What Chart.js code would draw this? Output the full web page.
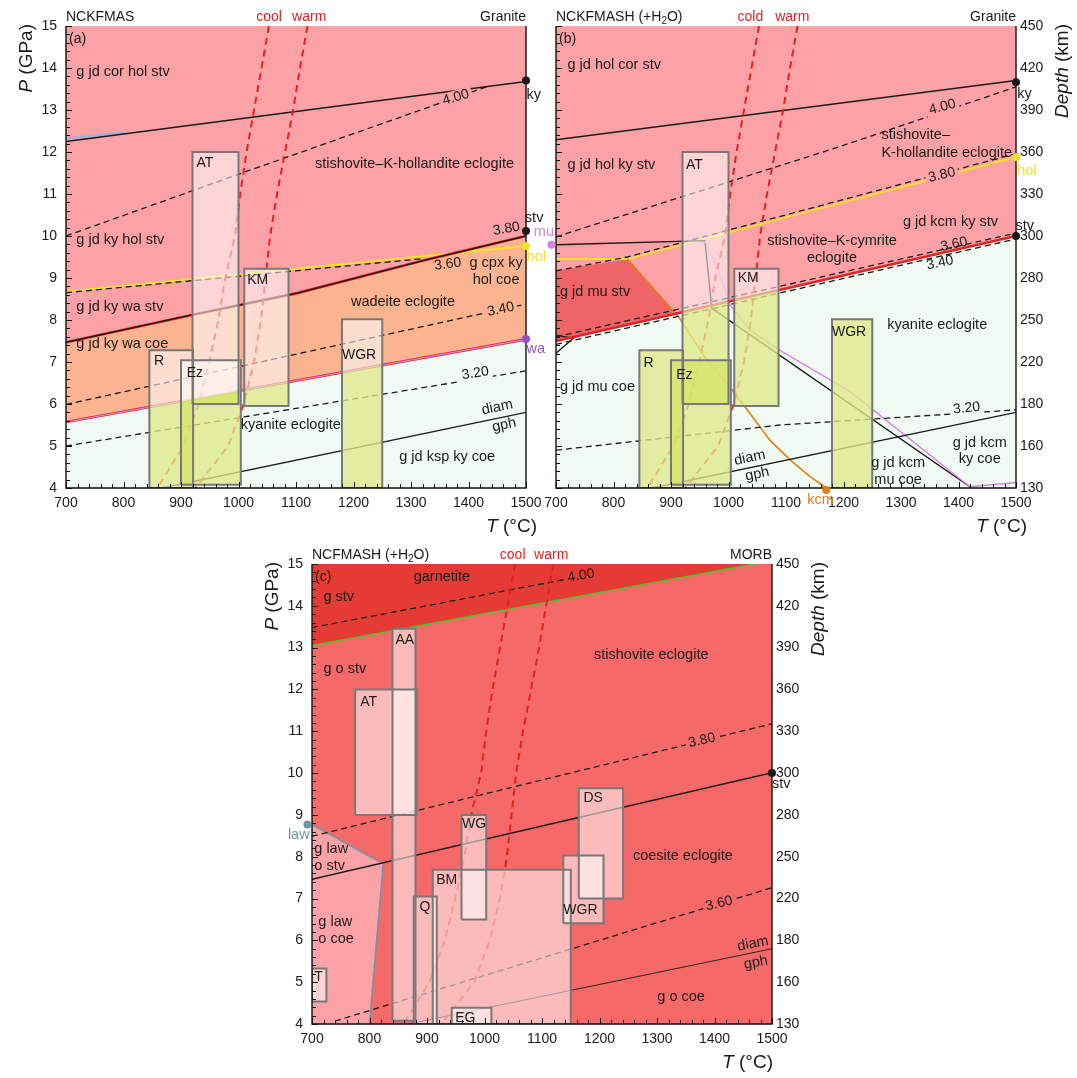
<!DOCTYPE html>
<html>
<head>
<meta charset="utf-8">
<title>Phase relations of subducted granite and MORB</title>
<script src="https://cdn.jsdelivr.net/npm/chart.js@4.4.1/dist/chart.umd.min.js"></script>
<style>
  html, body { margin: 0; padding: 0; background: #fff; }
  body { width: 1077px; height: 1078px; position: relative; overflow: hidden; }
  canvas { position: absolute; }
</style>
</head>
<body>
<canvas id="ca" width="560" height="545" style="left:0;top:0"></canvas>
<canvas id="cb" width="547" height="545" style="left:530px;top:0"></canvas>
<canvas id="cc" width="580" height="538" style="left:250px;top:540px"></canvas>
<script>
// Values: T in deg C, P in GPa

// geotherms (same in every panel)
const geoP = [15, 14, 13, 12, 11, 10, 9, 8, 7, 6, 5, 4];
const coolT = [1053, 1040, 1027, 1014, 1003, 994, 977, 965, 949, 931, 904, 859];
const warmT = [1120, 1107, 1095, 1081, 1067, 1055, 1047, 1039, 1027, 1009, 982, 925];

// diamond = graphite
const diamT = [868, 1500];
const diamP = [4.0, 5.8];

// depth axis labels (km) for 4 ... 15 GPa
const depthKm = [130, 160, 180, 220, 250, 280, 300, 330, 360, 390, 420, 450];

// rock P-T boxes in (a) and (b)
const boxNamesAB = ['AT', 'KM', 'R', 'Ez', 'WGR'];
const boxTminAB = [920, 1010, 845, 900, 1180];
const boxTmaxAB = [1000, 1087, 921, 1004, 1250];
const boxPminAB = [6.0, 5.95, 4.0, 4.08, 4.0];
const boxPmaxAB = [12.0, 9.22, 7.28, 7.04, 8.02];

// rock P-T boxes in (c)
const boxNamesC = ['AT', 'AA', 'WG', 'BM', 'Q', 'T', 'EG', 'DS', 'WGR'];
const boxTminC = [775, 840, 960, 910, 877, 700, 943, 1164, 1137];
const boxTmaxC = [882, 880, 1003, 1150, 917, 725, 1012, 1241, 1207];
const boxPminC = [9.0, 4.08, 6.5, 4.0, 4.0, 4.54, 4.0, 7.0, 6.41];
const boxPmaxC = [12.0, 13.45, 9.0, 7.69, 7.05, 5.33, 4.39, 9.64, 8.03];

// (a) NCKFMAS granite
const aKyT = [700, 1500], aKyP = [12.25, 13.68];
const aBlueT = [700, 800], aBlueP = [12.32, 12.47];
const aStvT = [700, 919, 1102, 1323, 1500], aStvP = [7.47, 8.12, 8.64, 9.42, 10.0];
const aHolT = [700, 1500], aHolP = [8.68, 9.76];
const aWaT = [700, 1500], aWaP = [5.57, 7.54];
const a400T = [700, 1006, 1437], a400P = [10.0, 11.5, 13.58];
const a360T = [700, 1320], a360P = [8.65, 9.46];
const a340T = [700, 1500], a340P = [5.99, 8.38];
const a320T = [700, 1500], a320P = [5.0, 6.79];
const aDotT = [1500, 1500, 1500, 1500], aDotP = [13.7, 10.12, 9.76, 7.55];

// (b) NCKFMASH granite
const bKyT = [700, 1500], bKyP = [12.29, 13.7];
const b400T = [700, 1194, 1500], b400P = [9.98, 12.13, 13.55];
const bHolT = [700, 824, 1500], bHolP = [9.45, 9.45, 11.88];
const b380T = [700, 824, 1500], b380P = [9.17, 9.5, 11.96];
const bStvT = [700, 1500], bStvP = [7.5, 10.0];
const b360T = [700, 1500], b360P = [7.6, 10.07];
const b340T = [700, 1500], b340P = [7.42, 9.93];
const b320T = [700, 1090, 1500], b320P = [4.9, 5.5, 5.86];
const bMuT = [700, 959, 971, 1423], bMuP = [9.79, 9.89, 8.28, 4.0];
const bMuViolT = [959, 980, 1003, 1037, 1093, 1211, 1420, 1500];
const bMuViolP = [9.89, 9.27, 8.36, 7.76, 7.25, 6.3, 4.03, 4.13];
const bKcmT = [824, 913, 962, 1002, 1037, 1072, 1107, 1142, 1170];
const bKcmP = [9.45, 8.08, 7.05, 6.41, 5.78, 5.14, 4.67, 4.27, 4.0];
const bMuStvT = [700, 824, 905, 700], bMuStvP = [9.17, 9.45, 8.18, 7.5];
const bLeftT = [700, 730, 700], bLeftP = [7.21, 7.56, 7.64];
const bDotT = [692, 1500, 1500, 1500, 1170], bDotP = [9.79, 13.66, 11.88, 10.0, 3.95];

// (c) NCFMASH MORB
const cGrtT = [700, 1470], cGrtP = [13.05, 15.0];
const c400T = [700, 1140], c400P = [13.48, 14.63];
const cLawT = [700, 824, 800], cLawP = [8.77, 7.83, 4.0];
const cStvT = [700, 1500], cStvP = [7.46, 10.01];
const c380T = [700, 1500], c380P = [8.49, 11.18];
const c360T = [740, 1500], c360P = [4.07, 7.26];
const cDotT = [1500, 692], cDotP = [10.0, 8.77];

const FONT = 'Helvetica, Arial, "Liberation Sans", sans-serif';
const INK = '#1a1a1a';
const PINK = 'rgb(252,161,165)';
const ORANGE = 'rgb(251,179,144)';
const GREEN = 'rgb(240,250,243)';
const DARKRED = 'rgb(239,101,103)';
const REDC = 'rgb(246,105,105)';
const GARNET = 'rgb(228,60,52)';
const BOX_WHITE = 'rgba(255,255,255,0.55)';
const BOX_YELLOW = 'rgba(204,221,71,0.5)';
const BOX_EDGE = 'rgb(120,120,120)';
const RED = 'rgb(226,34,34)';
const YELLOW = 'rgb(242,226,40)';
const VIOLET = 'rgb(214,130,222)';
const PURPLE = 'rgb(150,80,200)';
const KCM = 'rgb(222,128,20)';
const TEAL = 'rgb(112,150,165)';
const GRT_LINE = 'rgb(90,190,40)';
const DASH = [6, 4];
const GEO_DASH = [7, 5];

// text placed in data coordinates
const aLabels = [
  { t: 'g jd cor hol stv', x: 718, y: 13.91 },
  { t: 'stishovite–K-hollandite eclogite', x: 1306, y: 11.71, al: 'center' },
  { t: 'g jd ky hol stv', x: 718, y: 9.9 },
  { t: '4.00', x: 1378, y: 13.3, rot: 17, bg: PINK, s: 14, al: 'center' },
  { t: '3.80', x: 1466, y: 10.17, rot: 10, s: 14, al: 'center' },
  { t: '3.60', x: 1364, y: 9.33, rot: 7, s: 14, al: 'center' },
  { t: 'g cpx ky', x: 1448, y: 9.36, al: 'center' },
  { t: 'hol coe', x: 1448, y: 8.95, al: 'center' },
  { t: 'wadeite eclogite', x: 1286, y: 8.42, al: 'center' },
  { t: 'g jd ky wa stv', x: 718, y: 8.3 },
  { t: 'g jd ky wa coe', x: 718, y: 7.42 },
  { t: '3.40', x: 1456, y: 8.25, rot: 12, bg: ORANGE, s: 14, al: 'center' },
  { t: '3.20', x: 1412, y: 6.73, rot: 9, bg: GREEN, s: 14, al: 'center' },
  { t: 'kyanite eclogite', x: 1091, y: 5.5, al: 'center' },
  { t: 'diam', x: 1450, y: 5.92, rot: 12, al: 'center' },
  { t: 'gph', x: 1462, y: 5.5, rot: 12, al: 'center' },
  { t: 'g jd ksp ky coe', x: 1363, y: 4.73, al: 'center' },
  { t: 'AT', x: 927, y: 11.74, s: 14 },
  { t: 'KM', x: 1015, y: 8.96, s: 14 },
  { t: 'R', x: 853, y: 7.02, s: 14 },
  { t: 'Ez', x: 910, y: 6.74, s: 14 },
  { t: 'WGR', x: 1180, y: 7.17, s: 14 },
  { t: 'ky', x: 1501, y: 13.36 },
  { t: 'stv', x: 1498, y: 10.44 },
  { t: 'hol', x: 1501, y: 9.5, c: YELLOW },
  { t: 'wa', x: 1501, y: 7.32, c: PURPLE }
];
const bLabels = [
  { t: 'g jd hol cor stv', x: 720, y: 14.07 },
  { t: 'g jd hol ky stv', x: 720, y: 11.69 },
  { t: 'stishovite–', x: 1266, y: 12.4 },
  { t: 'K-hollandite eclogite', x: 1266, y: 11.97 },
  { t: '4.00', x: 1372, y: 13.07, rot: 15, bg: PINK, s: 14, al: 'center' },
  { t: '3.80', x: 1371, y: 11.45, rot: 13, bg: PINK, s: 14, al: 'center' },
  { t: 'g jd kcm ky stv', x: 1386, y: 10.34, al: 'center' },
  { t: 'stishovite–K-cymrite', x: 1180, y: 9.89, al: 'center' },
  { t: 'eclogite', x: 1180, y: 9.47, al: 'center' },
  { t: '3.60', x: 1392, y: 9.8, rot: 12, s: 14, al: 'center' },
  { t: '3.40', x: 1368, y: 9.36, rot: 12, s: 14, al: 'center' },
  { t: 'g jd mu stv', x: 707, y: 8.67 },
  { t: 'g jd mu coe', x: 707, y: 6.41 },
  { t: 'kyanite eclogite', x: 1363, y: 7.88, al: 'center' },
  { t: '3.20', x: 1414, y: 5.9, rot: 6, bg: GREEN, s: 14, al: 'center' },
  { t: 'g jd kcm', x: 1437, y: 5.08, al: 'center' },
  { t: 'ky coe', x: 1437, y: 4.68, al: 'center' },
  { t: 'g jd kcm', x: 1295, y: 4.6, al: 'center' },
  { t: 'mu coe', x: 1295, y: 4.19, al: 'center' },
  { t: 'diam', x: 1037, y: 4.72, rot: 12, al: 'center' },
  { t: 'gph', x: 1050, y: 4.33, rot: 12, al: 'center' },
  { t: 'AT', x: 926, y: 11.69, s: 14 },
  { t: 'KM', x: 1016, y: 8.99, s: 14 },
  { t: 'R', x: 852, y: 6.98, s: 14 },
  { t: 'Ez', x: 909, y: 6.69, s: 14 },
  { t: 'WGR', x: 1180, y: 7.7, s: 14 },
  { t: 'mu', x: 679, y: 10.1, al: 'center', c: VIOLET },
  { t: 'ky', x: 1502, y: 13.38 },
  { t: 'hol', x: 1502, y: 11.55, c: YELLOW },
  { t: 'stv', x: 1499, y: 10.25 },
  { t: 'kcm', x: 1160, y: 3.71, al: 'center', c: KCM }
];
const cLabels = [
  { t: 'garnetite', x: 926, y: 14.69, al: 'center' },
  { t: 'g stv', x: 720, y: 14.2 },
  { t: 'g o stv', x: 720, y: 12.5 },
  { t: 'stishovite eclogite', x: 1290, y: 12.82, al: 'center' },
  { t: '4.00', x: 1168, y: 14.72, rot: 10, s: 14, al: 'center' },
  { t: '3.80', x: 1378, y: 10.78, rot: 13, bg: REDC, s: 14, al: 'center' },
  { t: '3.60', x: 1408, y: 6.88, rot: 14, bg: REDC, s: 14, al: 'center' },
  { t: 'coesite eclogite', x: 1345, y: 8.01, al: 'center' },
  { t: 'g law', x: 704, y: 8.19 },
  { t: 'o stv', x: 704, y: 7.79 },
  { t: 'g law', x: 711, y: 6.44 },
  { t: 'o coe', x: 711, y: 6.04 },
  { t: 'diam', x: 1467, y: 5.92, rot: 11, al: 'center' },
  { t: 'gph', x: 1472, y: 5.47, rot: 11, al: 'center' },
  { t: 'g o coe', x: 1342, y: 4.64, al: 'center' },
  { t: 'AT', x: 784, y: 11.7, s: 14 },
  { t: 'AA', x: 845, y: 13.17, s: 14 },
  { t: 'WG', x: 961, y: 8.77, s: 14 },
  { t: 'BM', x: 916, y: 7.43, s: 14 },
  { t: 'Q', x: 887, y: 6.79, s: 14 },
  { t: 'T', x: 704, y: 5.12, s: 14 },
  { t: 'EG', x: 949, y: 4.15, s: 14 },
  { t: 'DS', x: 1172, y: 9.39, s: 14 },
  { t: 'WGR', x: 1137, y: 6.72, s: 14 },
  { t: 'stv', x: 1500, y: 9.74 },
  { t: 'law', x: 677, y: 8.53, al: 'center', c: TEAL }
];

const PANELS = {
  ca: { tag: 'NCKFMAS', rock: 'Granite', geo: ['cool', 'warm'], geoX: [1053, 1123], letter: '(a)', depth: false, tEnd: 11, labels: aLabels },
  cb: { tag: 'NCKFMASH (+H_2O)', rock: 'Granite', geo: ['cold', 'warm'], geoX: [1038, 1111], letter: '(b)', depth: true, tEnd: 11, labels: bLabels },
  cc: { tag: 'NCFMASH (+H_2O)', rock: 'MORB', geo: ['cool', 'warm'], geoX: [1049, 1116], letter: '(c)', depth: true, tEnd: 1, labels: cLabels }
};

function pts(T, P) {
  return T.map((t, i) => ({ x: t, y: P[i] }));
}

function area(T, P, color) {
  return { data: pts(T, P), showLine: true, fill: 'shape', backgroundColor: color,
    borderColor: 'rgba(0,0,0,0)', borderWidth: 0, pointRadius: 0 };
}

function curve(T, P, color, width, dash) {
  return { data: pts(T, P), showLine: true, fill: false, borderColor: color,
    borderWidth: width, borderDash: dash || [], pointRadius: 0, borderJoinStyle: 'miter' };
}

// end-point dots sit on or just outside the frame, so give them a wide margin
function dots(T, P, colors) {
  return { data: pts(T, P), showLine: false, pointRadius: 4, pointHoverRadius: 12,
    pointBackgroundColor: colors, pointBorderWidth: 0, clip: false };
}

function interp(T, P, t) {
  if (t <= T[0]) return P[0];
  for (let i = 1; i < T.length; i++) {
    if (t <= T[i]) return P[i - 1] + (P[i] - P[i - 1]) * (t - T[i - 1]) / (T[i] - T[i - 1]);
  }
  return P[P.length - 1];
}

// translucent rock boxes; the part lying in the kyanite eclogite field is tinted
function boxSets(tmin, tmax, pmin, pmax, cutT, cutP) {
  const fills = [], tint = [], edges = [];
  for (let i = 0; i < tmin.length; i++) {
    const rT = [tmin[i], tmax[i], tmax[i], tmin[i], tmin[i]];
    const rP = [pmin[i], pmin[i], pmax[i], pmax[i], pmin[i]];
    fills.push(area(rT, rP, BOX_WHITE));
    edges.push(curve(rT, rP, BOX_EDGE, 2));
    if (cutT) {
      const c1 = Math.min(pmax[i], interp(cutT, cutP, tmin[i]));
      const c2 = Math.min(pmax[i], interp(cutT, cutP, tmax[i]));
      if (c1 > pmin[i] || c2 > pmin[i]) {
        tint.push(area([tmin[i], tmax[i], tmax[i], tmin[i]],
          [pmin[i], pmin[i], Math.max(c2, pmin[i]), Math.max(c1, pmin[i])], BOX_YELLOW));
      }
    }
  }
  edges[edges.length - 1].label = 'frame';
  return [...fills, ...tint, ...edges];
}

function geotherms() {
  return [curve(coolT, geoP, RED, 2, GEO_DASH), curve(warmT, geoP, RED, 2, GEO_DASH)];
}

function drawTag(ctx, text, x, y) {
  const parts = text.split('_2');
  ctx.textAlign = 'left';
  ctx.font = `14px ${FONT}`;
  ctx.fillText(parts[0], x, y);
  if (parts.length > 1) {
    let px = x + ctx.measureText(parts[0]).width;
    ctx.font = `10px ${FONT}`;
    ctx.fillText('2', px, y + 4);
    px += ctx.measureText('2').width;
    ctx.font = `14px ${FONT}`;
    ctx.fillText(parts[1], px, y);
  }
}

function vTitle(ctx, it, rest, cx, topY) {
  ctx.save();
  ctx.translate(cx, topY);
  ctx.rotate(-Math.PI / 2);
  ctx.textAlign = 'left';
  ctx.textBaseline = 'middle';
  ctx.font = `italic 19px ${FONT}`;
  const w1 = ctx.measureText(it).width;
  ctx.font = `19px ${FONT}`;
  const w2 = ctx.measureText(rest).width;
  ctx.font = `italic 19px ${FONT}`;
  ctx.fillText(it, -(w1 + w2), 0);
  ctx.font = `19px ${FONT}`;
  ctx.fillText(rest, -w2, 0);
  ctx.restore();
}

const framePlugin = {
  id: 'frame',
  // inward ticks and frame, drawn over the fields but under the end-point dots
  afterDatasetDraw(chart, args) {
    if (chart.data.datasets[args.index].label !== 'frame') return;
    const { ctx, chartArea: a } = chart;
    const x = chart.scales.x, y = chart.scales.y;
    ctx.save();
    ctx.strokeStyle = '#111';
    ctx.lineWidth = 1;
    ctx.beginPath();
    for (let i = 0; i <= 40; i++) {
      const px = Math.round(x.getPixelForValue(700 + i * 20)) + 0.5;
      const len = i % 5 === 0 ? 6 : 4;
      ctx.moveTo(px, a.bottom);
      ctx.lineTo(px, a.bottom - len);
    }
    for (let i = 0; i <= 55; i++) {
      const py = Math.round(y.getPixelForValue(4 + i * 0.2)) + 0.5;
      const len = i % 5 === 0 ? 6 : 4;
      ctx.moveTo(a.left, py);
      ctx.lineTo(a.left + len, py);
    }
    ctx.stroke();
    ctx.lineWidth = 1.4;
    ctx.beginPath();
    ctx.moveTo(a.left, a.top);
    ctx.lineTo(a.left, a.bottom);
    ctx.lineTo(a.right, a.bottom);
    ctx.lineTo(a.right, a.top);
    ctx.stroke();
    ctx.restore();
  },
  afterDraw(chart) {
    const cfg = PANELS[chart.canvas.id];
    const { ctx, chartArea: a } = chart;
    const x = chart.scales.x, y = chart.scales.y;
    ctx.save();
    ctx.textBaseline = 'middle';
    ctx.fillStyle = INK;
    drawTag(ctx, cfg.tag, a.left, a.top - 9);
    ctx.font = `14px ${FONT}`;
    ctx.textAlign = 'right';
    ctx.fillText(cfg.rock, a.right, a.top - 9);
    ctx.fillStyle = RED;
    ctx.textAlign = 'center';
    cfg.geo.forEach((g, i) => ctx.fillText(g, x.getPixelForValue(cfg.geoX[i]), a.top - 9));
    ctx.fillStyle = INK;
    ctx.textAlign = 'left';
    ctx.fillText(cfg.letter, a.left + 3, a.top + 13);

    vTitle(ctx, 'P', ' (GPa)', a.left - 39, a.top - 2);
    if (cfg.depth) vTitle(ctx, 'Depth', ' (km)', a.right + 47, a.top - 2);
    ctx.font = `19px ${FONT}`;
    const wRest = ctx.measureText(' (°C)').width;
    ctx.textAlign = 'right';
    ctx.fillText(' (°C)', a.right + cfg.tEnd, a.bottom + 39);
    ctx.font = `italic 19px ${FONT}`;
    ctx.fillText('T', a.right + cfg.tEnd - wRest, a.bottom + 39);

    for (const l of cfg.labels) {
      ctx.save();
      ctx.translate(x.getPixelForValue(l.x), y.getPixelForValue(l.y));
      if (l.rot) ctx.rotate(-l.rot * Math.PI / 180);
      ctx.font = `${l.s || 14.5}px ${FONT}`;
      ctx.textAlign = l.al || 'left';
      const w = ctx.measureText(l.t).width;
      if (l.bg) {
        const x0 = l.al === 'center' ? -w / 2 : 0;
        ctx.fillStyle = l.bg;
        ctx.fillRect(x0 - 3, -7, w + 6, 14);
      }
      ctx.fillStyle = l.c || INK;
      ctx.fillText(l.t, 0, 0);
      ctx.restore();
    }
    ctx.restore();
  }
};

function makeChart(id, datasets, layout) {
  const n = datasets.length;
  datasets.forEach((d, i) => { d.order = n - i; });
  const tickFont = { family: FONT, size: 14 };
  const scales = {
    x: {
      type: 'linear', min: 700, max: 1500,
      grid: { display: false, drawTicks: false }, border: { display: false },
      ticks: { stepSize: 100, autoSkip: false, maxRotation: 0, padding: 7, color: INK, font: tickFont,
        callback: v => String(v) },
      afterFit: s => { s.height = 40; }
    },
    y: {
      type: 'linear', min: 4, max: 15,
      grid: { display: false, drawTicks: false }, border: { display: false },
      ticks: { stepSize: 1, display: layout.leftLabels, padding: 9, color: INK, font: tickFont,
        callback: v => String(v) },
      afterFit: s => { s.width = layout.leftW; }
    }
  };
  if (layout.rightW) {
    scales.y2 = {
      type: 'linear', position: 'right', min: 4, max: 15,
      grid: { display: false, drawTicks: false }, border: { display: false },
      ticks: { stepSize: 1, padding: 4, color: INK, font: tickFont,
        callback: v => String(depthKm[Math.round(v - 4)]) },
      afterFit: s => { s.width = layout.rightW; }
    };
  }
  return new Chart(document.getElementById(id), {
    type: 'scatter',
    data: { datasets },
    options: {
      responsive: false,
      animation: false,
      devicePixelRatio: 1,
      events: [],
      layout: { padding: layout.pad },
      plugins: { legend: { display: false }, tooltip: { enabled: false } },
      scales
    },
    plugins: [framePlugin]
  });
}

const fullT = [700, 1500, 1500, 700], fullP = [4, 4, 15, 15];

const setsA = [
  area(fullT, fullP, PINK),
  area([...aStvT, ...aWaT.slice().reverse()], [...aStvP, ...aWaP.slice().reverse()], ORANGE),
  area([...aWaT, 1500, 700], [...aWaP, 4, 4], GREEN),
  curve(aBlueT, aBlueP, 'rgb(150,180,230)', 2),
  curve(aKyT, aKyP, INK, 1.5),
  curve(a400T, a400P, INK, 1.3, DASH),
  curve(a340T, a340P, INK, 1.3, DASH),
  curve(a320T, a320P, INK, 1.3, DASH),
  curve(aHolT, aHolP, YELLOW, 2),
  curve(a360T, a360P, INK, 1.3, DASH),
  curve(aStvT, aStvP, RED, 2.6),
  curve(aStvT, aStvP, INK, 1.3),
  curve(aWaT, aWaP, RED, 2.6),
  curve(aWaT, aWaP, VIOLET, 1.3),
  curve(diamT, diamP, INK, 1.3),
  ...geotherms(),
  ...boxSets(boxTminAB, boxTmaxAB, boxPminAB, boxPmaxAB, aWaT, aWaP),
  dots(aDotT, aDotP, [INK, INK, YELLOW, PURPLE])
];

const setsB = [
  area(fullT, fullP, PINK),
  area(bMuStvT, bMuStvP, DARKRED),
  area([...bStvT, 1500, 700], [...bStvP, 4, 4], GREEN),
  curve(bKyT, bKyP, INK, 1.5),
  curve(b400T, b400P, INK, 1.3, DASH),
  curve(bHolT, bHolP, YELLOW, 2),
  curve(b380T, b380P, INK, 1.3, DASH),
  curve(bMuT, bMuP, INK, 1.4),
  curve(bMuViolT, bMuViolP, VIOLET, 1.4),
  curve(bKcmT, bKcmP, KCM, 1.6),
  curve(bLeftT, bLeftP, INK, 1.3),
  curve(bStvT, bStvP, RED, 2.4),
  curve(b360T, b360P, INK, 1.3, DASH),
  curve(b340T, b340P, INK, 1.3, DASH),
  curve(b320T, b320P, INK, 1.3, DASH),
  curve(diamT, diamP, INK, 1.3),
  ...geotherms(),
  ...boxSets(boxTminAB, boxTmaxAB, boxPminAB, boxPmaxAB, bStvT, bStvP),
  dots(bDotT, bDotP, [VIOLET, INK, YELLOW, INK, KCM])
];

const setsC = [
  area(fullT, fullP, REDC),
  area([...cGrtT, 700], [...cGrtP, 15], GARNET),
  area([...cLawT, 700], [...cLawP, 4], PINK),
  curve(c400T, c400P, INK, 1.3, DASH),
  curve(cGrtT, cGrtP, GRT_LINE, 1.6),
  curve(cLawT, cLawP, TEAL, 1.6),
  curve(cStvT, cStvP, INK, 1.5),
  curve(c380T, c380P, INK, 1.3, DASH),
  curve(c360T, c360P, INK, 1.3, DASH),
  curve(diamT, diamP, INK, 0.9),
  ...geotherms(),
  ...boxSets(boxTminC, boxTmaxC, boxPminC, boxPmaxC, null, null),
  dots(cDotT, cDotP, [INK, TEAL])
];

makeChart('ca', setsA, { leftW: 66, leftLabels: true, rightW: 0, pad: { left: 0, top: 26, right: 34, bottom: 17 } });
makeChart('cb', setsB, { leftW: 26, leftLabels: false, rightW: 61, pad: { left: 0, top: 26, right: 0, bottom: 17 } });
makeChart('cc', setsC, { leftW: 62, leftLabels: true, rightW: 58, pad: { left: 0, top: 24, right: 0, bottom: 14 } });
</script>
</body>
</html>
